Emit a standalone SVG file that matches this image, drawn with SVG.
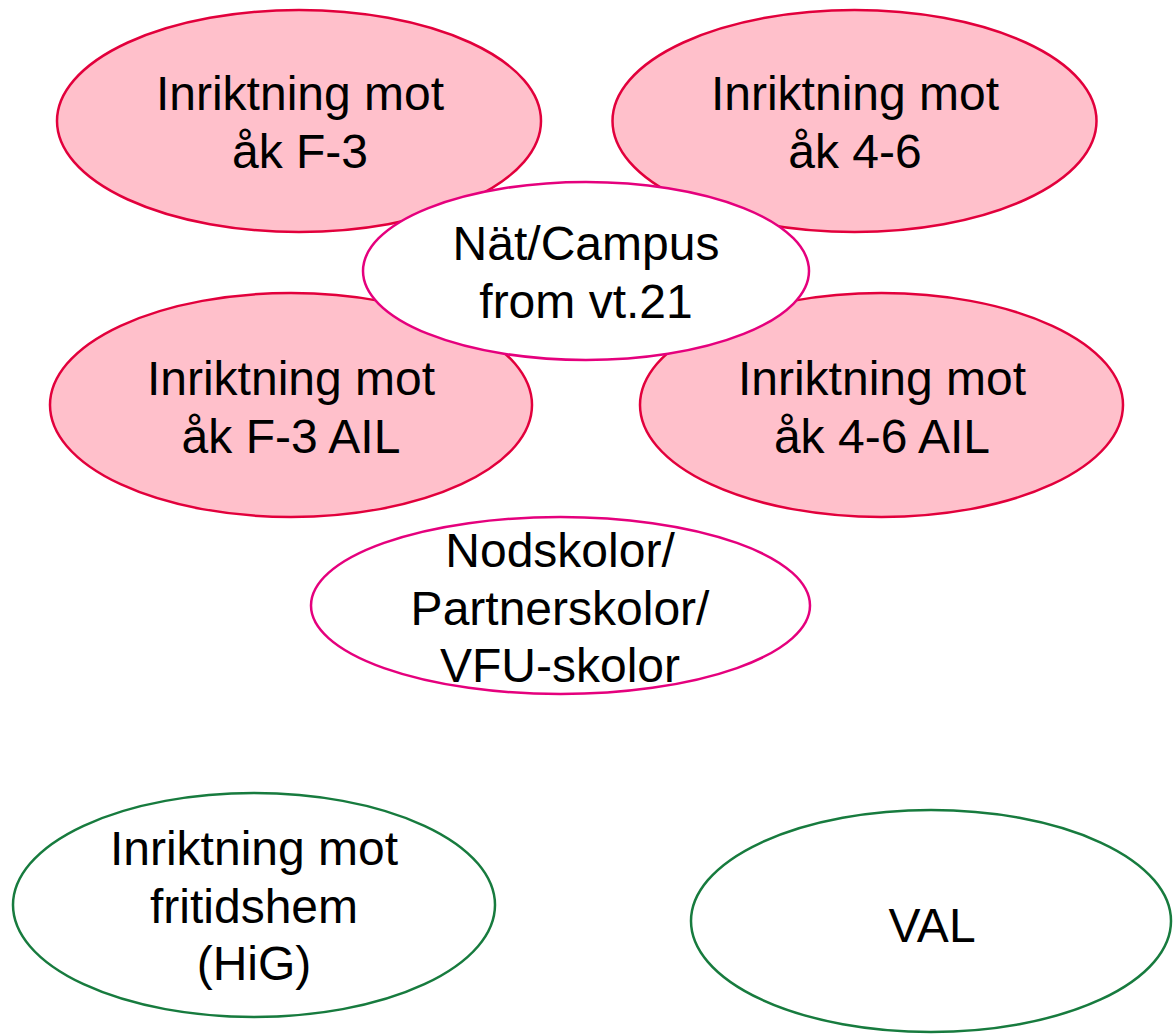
<svg xmlns="http://www.w3.org/2000/svg" width="1173" height="1034" viewBox="0 0 1173 1034">
<style>
.pk{fill:#FFC0CB;stroke:#E2003C;stroke-width:2.5}
.wm{fill:#FFFFFF;stroke:#E5007D;stroke-width:2.5}
.gr{fill:#FFFFFF;stroke:#177B3E;stroke-width:2.5}
text{font-family:"Liberation Sans",Arial,sans-serif;font-size:48px;fill:#000;text-anchor:middle}
</style>
<rect width="1173" height="1034" fill="#FFFFFF"/>
<g id="connectors"></g>
<g id="n-f3">
<ellipse class="pk" cx="299" cy="121" rx="242" ry="111"/>
<text x="300" y="110">Inriktning mot</text>
<text x="300" y="168">åk F-3</text>
</g>
<g id="n-46">
<ellipse class="pk" cx="854.5" cy="121" rx="242" ry="111"/>
<text x="855" y="110">Inriktning mot</text>
<text x="855" y="168">åk 4-6</text>
</g>
<g id="n-f3ail">
<ellipse class="pk" cx="291" cy="405" rx="241" ry="112"/>
<text x="291" y="395">Inriktning mot</text>
<text x="291" y="453">åk F-3 AIL</text>
</g>
<g id="n-46ail">
<ellipse class="pk" cx="881.5" cy="405" rx="241.5" ry="112"/>
<text x="882" y="395">Inriktning mot</text>
<text x="882" y="453">åk 4-6 AIL</text>
</g>
<g id="n-campus">
<ellipse class="wm" cx="586" cy="271" rx="223" ry="89"/>
<text x="586" y="260">Nät/Campus</text>
<text x="586" y="318">from vt.21</text>
</g>
<g id="n-nod">
<ellipse class="wm" cx="560.5" cy="605.5" rx="249.5" ry="88.5"/>
<text x="560" y="567">Nodskolor/</text>
<text x="560" y="625">Partnerskolor/</text>
<text x="560" y="682">VFU-skolor</text>
</g>
<g id="n-fritids">
<ellipse class="gr" cx="254" cy="905" rx="241" ry="112"/>
<text x="254" y="865">Inriktning mot</text>
<text x="254" y="923">fritidshem</text>
<text x="254" y="980">(HiG)</text>
</g>
<g id="n-val">
<ellipse class="gr" cx="931" cy="921" rx="240" ry="111"/>
<text x="932" y="942">VAL</text>
</g>
</svg>
